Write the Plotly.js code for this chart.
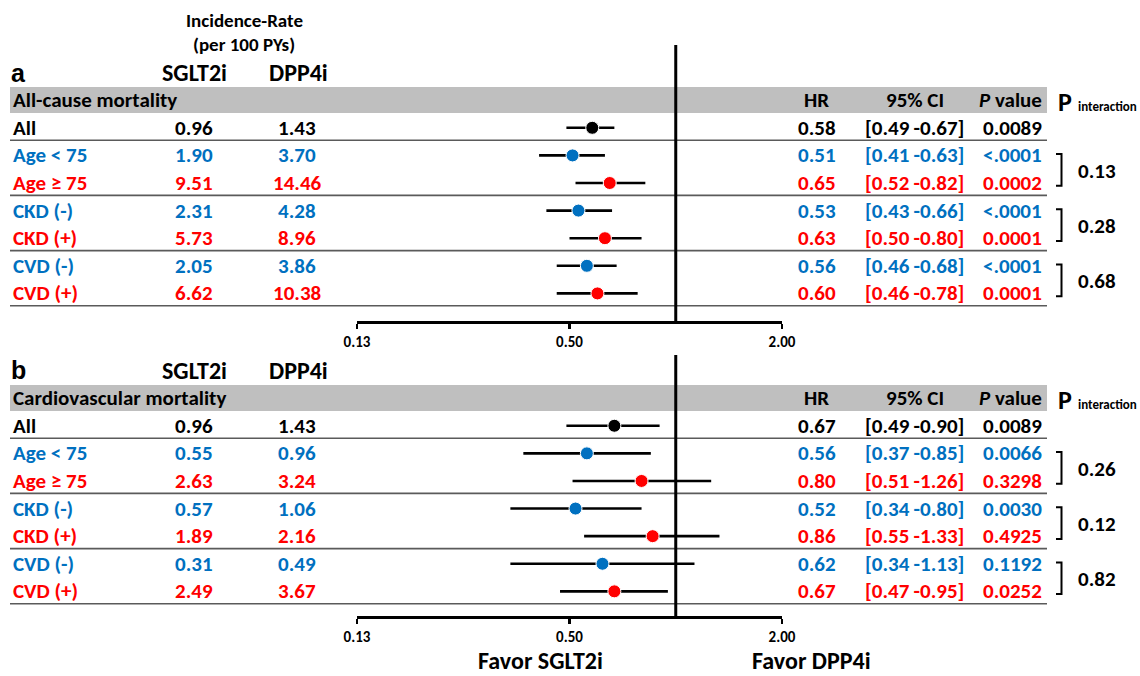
<!DOCTYPE html>
<html><head><meta charset="utf-8">
<script src="https://cdn.plot.ly/plotly-3.0.1.min.js"></script>
<style>html,body{margin:0;padding:0;background:#fff}#chart{width:1140px;height:676px}</style>
</head><body><div id="chart"></div>
<script>
// ---------- data ----------
const rowLabels = ['All', 'Age < 75', 'Age \u2265 75', 'CKD (-)', 'CKD (+)', 'CVD (-)', 'CVD (+)'];

const titleA = 'All-cause mortality';
const sgltA = [0.96, 1.90, 9.51, 2.31, 5.73, 2.05, 6.62];
const dppA  = [1.43, 3.70, 14.46, 4.28, 8.96, 3.86, 10.38];
const hrA   = [0.58, 0.51, 0.65, 0.53, 0.63, 0.56, 0.60];
const loA   = [0.49, 0.41, 0.52, 0.43, 0.50, 0.46, 0.46];
const hiA   = [0.67, 0.63, 0.82, 0.66, 0.80, 0.68, 0.78];
const pA    = ['0.0089', '<.0001', '0.0002', '<.0001', '0.0001', '<.0001', '0.0001'];
const pintA = ['0.13', '0.28', '0.68'];

const titleB = 'Cardiovascular mortality';
const sgltB = [0.96, 0.55, 2.63, 0.57, 1.89, 0.31, 2.49];
const dppB  = [1.43, 0.96, 3.24, 1.06, 2.16, 0.49, 3.67];
const hrB   = [0.67, 0.56, 0.80, 0.52, 0.86, 0.62, 0.67];
const loB   = [0.49, 0.37, 0.51, 0.34, 0.55, 0.34, 0.47];
const hiB   = [0.90, 0.85, 1.26, 0.80, 1.33, 1.13, 0.95];
const pB    = ['0.0089', '0.0066', '0.3298', '0.0030', '0.4925', '0.1192', '0.0252'];
const pintB = ['0.26', '0.12', '0.82'];

const tickVals = [0.125, 0.5, 2];
const tickLabels = ['0.13', '0.50', '2.00'];

// ---------- style ----------
const W = 1140, H = 676;
const FONT = 'Carlito, Lato, sans-serif';
const BLACK = '#000000', BLUE = '#0070C0', RED = '#FF0000';
const rowColor = [BLACK, BLUE, RED, BLUE, RED, BLUE, RED];
const ROW = 21;
const px = x => x / W;
const py = y => 1 - y / H;

const traces = [];
const annotations = [];
const shapes = [];

function ann(o) {
  annotations.push(Object.assign({showarrow: false, xref: 'paper', yref: 'paper', xanchor: 'center', yanchor: 'middle'}, o));
}
function txt(s) { return '<b>' + s + '</b>'; }

function buildPanel(p) {
  const {xa, ya, title, sglt, dpp, hr, lo, hi, pv, pint, bandTop, bandBot, letterY, headY} = p;
  const yref = ya;
  // CI lines
  const lx = [], ly = [];
  hr.forEach((v, i) => { lx.push(lo[i], hi[i], null); ly.push(i, i, null); });
  traces.push({type: 'scatter', mode: 'lines', x: lx, y: ly, xaxis: xa, yaxis: ya,
    line: {color: BLACK, width: 2.6}, hoverinfo: 'skip', showlegend: false});
  traces.push({type: 'scatter', mode: 'markers', x: hr, y: hr.map((v, i) => i), xaxis: xa, yaxis: ya,
    marker: {color: rowColor, size: 13, line: {color: '#ffffff', width: 1}}, showlegend: false});

  // grey band
  shapes.push({type: 'rect', xref: 'paper', yref: 'paper', x0: px(10), x1: px(1047), y0: py(bandBot), y1: py(bandTop),
    fillcolor: '#BFBFBF', line: {width: 0}});
  // separators
  [0, 2, 4, 6].forEach(i => shapes.push({type: 'line', xref: 'paper', yref: yref, x0: px(10), x1: px(1047), y0: i + 0.45, y1: i + 0.45,
    line: {color: '#5a5a5a', width: 1.6}}));
  // HR = 1 line
  shapes.push({type: 'line', xref: xa, yref: ya + ' domain', x0: 1, x1: 1, y0: 0, y1: 1, line: {color: BLACK, width: 3}});
  // brackets
  pint.forEach((v, k) => {
    const a = 2 * k + 1, b = a + 1;
    shapes.push({type: 'path', xref: 'paper', yref: yref,
      path: `M ${px(1056)} ${a - 0.05} L ${px(1061.5)} ${a - 0.05} L ${px(1061.5)} ${b + 0.1} L ${px(1056)} ${b + 0.1}`,
      line: {color: BLACK, width: 2}});
    ann({x: px(1097), y: a + 0.55, yref: yref, text: txt(v), font: {family: FONT, size: 21, color: BLACK}});
  });

  // headers
  ann({x: px(9), y: py(letterY), xanchor: 'left', text: txt(p.letter), font: {family: 'Liberation Sans, Arial, sans-serif', size: 25, color: BLACK}});
  ann({x: px(194), y: py(letterY), text: txt('SGLT2i'), font: {family: FONT, size: 24, color: BLACK}});
  ann({x: px(298), y: py(letterY), text: txt('DPP4i'), font: {family: FONT, size: 24, color: BLACK}});
  ann({x: px(11), y: py(headY), xanchor: 'left', text: txt(title), font: {family: FONT, size: ROW, color: BLACK}});
  ann({x: px(816), y: py(headY), text: txt('HR'), font: {family: FONT, size: ROW, color: BLACK}});
  ann({x: px(915), y: py(headY), text: txt('95% CI'), font: {family: FONT, size: ROW, color: BLACK}});
  ann({x: px(1044), y: py(headY), xanchor: 'right', text: txt('<i>P</i> value'), font: {family: FONT, size: ROW, color: BLACK}});
  ann({x: px(1056), y: py(headY + 2), xanchor: 'left', text: txt('P'), font: {family: FONT, size: 26, color: BLACK}});
  ann({x: px(1076), y: py(headY + 6), xanchor: 'left', text: txt('interaction'), font: {family: FONT, size: 13, color: BLACK}});

  // rows
  rowLabels.forEach((lab, i) => {
    const f = {family: FONT, size: ROW, color: rowColor[i]};
    ann({x: px(11), y: i, yref: yref, xanchor: 'left', text: txt(lab), font: f});
    ann({x: px(194), y: i, yref: yref, text: txt(sglt[i].toFixed(2)), font: f});
    ann({x: px(297), y: i, yref: yref, text: txt(dpp[i].toFixed(2)), font: f});
    ann({x: px(817), y: i, yref: yref, text: txt(hr[i].toFixed(2)), font: f});
    ann({x: px(914), y: i, yref: yref, text: txt('[' + lo[i].toFixed(2) + '\u2009-' + hi[i].toFixed(2) + ']'), font: f});
    ann({x: px(1044), y: i, yref: yref, xanchor: 'right', text: txt(pv[i]), font: f});
  });
}

buildPanel({xa: 'x', ya: 'y', letter: 'a', title: titleA, sglt: sgltA, dpp: dppA, hr: hrA, lo: loA, hi: hiA, pv: pA, pint: pintA,
  bandTop: 87, bandBot: 113, letterY: 73, headY: 100});
buildPanel({xa: 'x2', ya: 'y2', letter: 'b', title: titleB, sglt: sgltB, dpp: dppB, hr: hrB, lo: loB, hi: hiB, pv: pB, pint: pintB,
  bandTop: 385, bandBot: 411, letterY: 370, headY: 398});

ann({x: px(244), y: py(20), text: txt('Incidence-Rate'), font: {family: FONT, size: 19, color: BLACK}});
ann({x: px(244), y: py(45), text: txt('(per 100 PYs)'), font: {family: FONT, size: 19, color: BLACK}});
ann({x: px(540), y: py(676), yanchor: 'bottom', borderpad: 0, text: txt('Favor SGLT2i'), font: {family: FONT, size: 24, color: BLACK}});
ann({x: px(811), y: py(676), yanchor: 'bottom', borderpad: 0, text: txt('Favor DPP4i'), font: {family: FONT, size: 24, color: BLACK}});

function xAxis(anchor) {
  return {type: 'log', range: [Math.log10(0.125), Math.log10(2)], domain: [px(357), px(782)], anchor: anchor,
    showline: true, linecolor: BLACK, linewidth: 2.6, ticks: 'outside', ticklen: 5, tickwidth: 2.6, tickcolor: BLACK,
    tickvals: tickVals, ticktext: tickLabels.map(t => '<b>' + t + '</b>'), tickfont: {family: FONT, size: 15, color: BLACK},
    ticklabelstandoff: 0, showgrid: false, zeroline: false, fixedrange: true};
}

const layout = {
  width: W, height: H, margin: {l: 0, r: 0, t: 0, b: 0},
  paper_bgcolor: '#ffffff', plot_bgcolor: 'rgba(0,0,0,0)', showlegend: false,
  xaxis: xAxis('y'),
  yaxis: {domain: [py(321), py(45)], range: [7, -3], visible: false, fixedrange: true},
  xaxis2: xAxis('y2'),
  yaxis2: {domain: [py(616), py(355)], range: [6.893, -2.564], visible: false, fixedrange: true},
  shapes: shapes, annotations: annotations, hovermode: false
};

Plotly.newPlot('chart', traces, layout, {displayModeBar: false, staticPlot: true});
</script></body></html>
